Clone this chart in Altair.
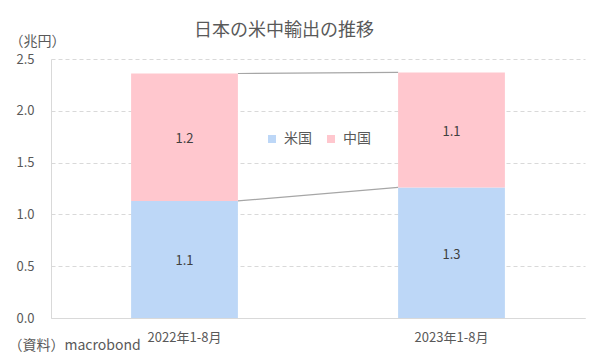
import altair as alt
import pandas as pd

categories = ["2022年1-8月", "2023年1-8月"]
series = ["米国", "中国"]
us_values = [1.13, 1.26]
china_values = [1.23, 1.11]
colors = ["#BDD7F7", "#FFC7CE"]

FONT = "Noto Sans CJK JP"
GRAY = "#595959"

rows = []
for i, c in enumerate(categories):
    base = 0.0
    for j, (s, v) in enumerate(zip(series, [us_values[i], china_values[i]])):
        rows.append({"cat": c, "series": s, "order": j, "v": v,
                     "y0": base, "y1": base + v, "mid": base + v / 2,
                     "label": f"{v:.1f}"})
        base += v
df = pd.DataFrame(rows)

tops = [u + c for u, c in zip(us_values, china_values)]
conn = pd.DataFrame({
    "x": [categories[0], categories[0]],
    "x2": [categories[1], categories[1]],
    "y": [tops[0], us_values[0]],
    "y2": [tops[1], us_values[1]],
})

x_enc = alt.X("cat:N", sort=categories,
              scale=alt.Scale(paddingInner=0.6, paddingOuter=0.3),
              axis=alt.Axis(title="（資料）macrobond", labelAngle=0, labelAlign="center",
                            ticks=False,
                            domainColor="#D9D9D9", labelPadding=19, labelFontSize=13,
                            labelColor=GRAY, labelFont=FONT,
                            titleAnchor="start", titleAlign="left", titleX=-43,
                            titleY=27, titleBaseline="middle", titleFontSize=14,
                            titleFontWeight="normal", titleColor=GRAY, titleFont=FONT))

y_scale = alt.Scale(domain=[0, 2.5], nice=False)

bars = alt.Chart(df).mark_bar().encode(
    x=x_enc,
    y=alt.Y("y0:Q", scale=y_scale,
            axis=alt.Axis(title="（兆円）", values=[0, 0.5, 1, 1.5, 2, 2.5], format=".1f",
                          ticks=False, domainColor="#D9D9D9", gridColor="#D9D9D9",
                          gridDash=[4, 3], labelPadding=17, labelFontSize=13,
                          labelColor=GRAY, labelFont=FONT,
                          titleAngle=0, titleAlign="left", titleBaseline="middle",
                          titleX=-42, titleY=-18, titleFontSize=14,
                          titleFontWeight="normal", titleColor=GRAY, titleFont=FONT)),
    y2="y1:Q",
    color=alt.Color("series:N", sort=series,
                    scale=alt.Scale(domain=series, range=colors),
                    legend=alt.Legend(title=None, orient="none", direction="horizontal",
                                      legendX=214, legendY=73, symbolType="square",
                                      symbolSize=64, symbolStrokeWidth=0,
                                      labelFontSize=14, labelColor=GRAY, labelFont=FONT,
                                      labelOffset=5, columnPadding=12)),
)

texts = alt.Chart(df).mark_text(fontSize=13, color="#404040", font=FONT, dy=2).encode(
    x=alt.X("cat:N", sort=categories),
    y=alt.Y("mid:Q"),
    text="label:N",
)

rules = alt.Chart(conn).mark_rule(color="#A6A6A6", strokeWidth=1.2,
                                  xOffset=53.4, x2Offset=-53.4).encode(
    x=alt.X("x:N", sort=categories),
    x2="x2:N",
    y="y:Q",
    y2="y2:Q",
)

chart = alt.layer(rules, bars, texts).properties(
    width=534, height=259,
    autosize=alt.AutoSizeParams(type="none"),
    padding={"left": 43, "top": 51, "right": 7, "bottom": 34},
    title=alt.TitleParams("日本の米中輸出の推移", fontSize=18, color=GRAY, font=FONT,
                          fontWeight="normal", anchor="middle", dx=-34, dy=28, offset=22),
).configure_view(stroke=None).configure_axis(labelFont=FONT)

chart.save("out.html", embed_options={"renderer": "svg", "actions": False})
